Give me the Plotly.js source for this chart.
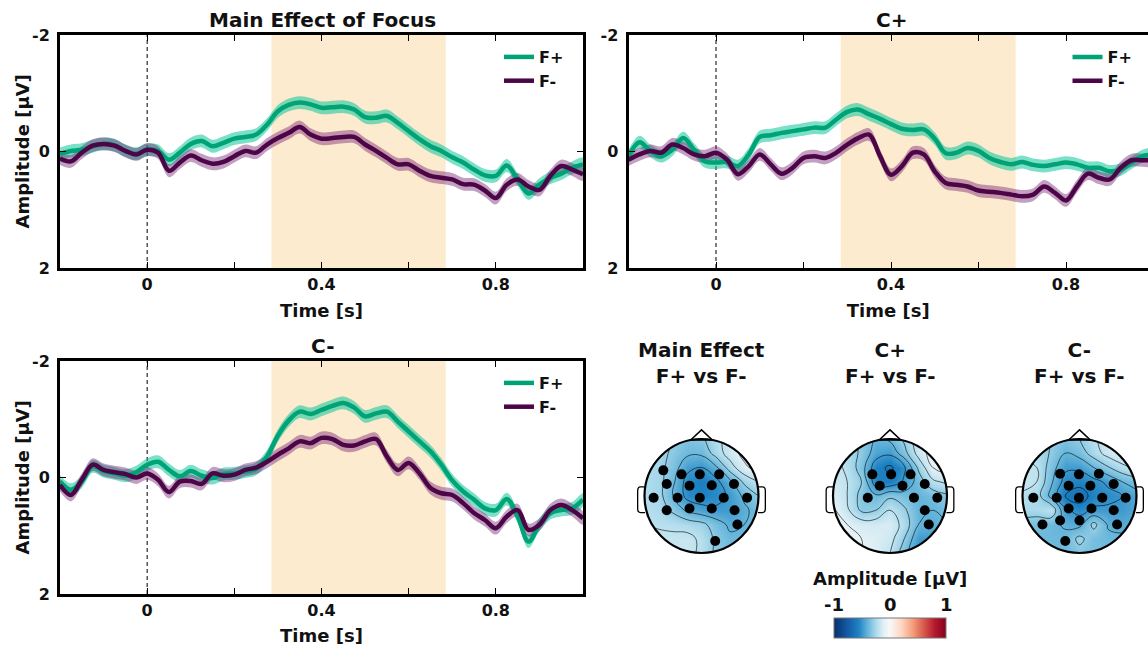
<!DOCTYPE html>
<html><head><meta charset="utf-8">
<script src="https://cdn.plot.ly/plotly-3.0.1.min.js"></script>
<style>html,body{margin:0;padding:0;background:#fff;}#chart{width:1148px;height:646px;}</style>
</head><body><div id="chart"></div>
<script>
// ---------- DATA ----------
const time = [-0.2,-0.175,-0.15,-0.125,-0.1,-0.075,-0.05,-0.025,0,0.025,0.05,0.075,0.1,0.125,0.15,0.175,0.2,0.225,0.25,0.275,0.3,0.325,0.35,0.375,0.4,0.425,0.45,0.475,0.5,0.525,0.55,0.575,0.6,0.625,0.65,0.675,0.7,0.725,0.75,0.775,0.8,0.825,0.85,0.875,0.9,0.925,0.95,0.975,1.0];

const main_Fplus  = [0.04,-0.01,-0.03,-0.09,-0.13,-0.11,-0.01,0.04,-0.03,-0.01,0.14,0.02,-0.13,-0.18,-0.09,-0.15,-0.22,-0.25,-0.29,-0.46,-0.69,-0.80,-0.84,-0.81,-0.75,-0.76,-0.77,-0.72,-0.59,-0.58,-0.61,-0.49,-0.35,-0.21,-0.09,-0.01,0.10,0.19,0.31,0.41,0.42,0.24,0.48,0.72,0.57,0.45,0.38,0.28,0.22];
const main_Fminus = [0.12,0.17,0.02,-0.10,-0.13,-0.10,-0.01,0.05,-0.03,0.02,0.33,0.19,0.07,0.15,0.21,0.18,0.08,-0.01,0.02,-0.12,-0.23,-0.32,-0.42,-0.29,-0.22,-0.23,-0.25,-0.25,-0.12,-0.01,0.11,0.22,0.22,0.33,0.42,0.45,0.48,0.56,0.57,0.67,0.80,0.57,0.48,0.60,0.66,0.42,0.25,0.31,0.39];

const cp_Fplus  = [0.08,-0.16,-0.01,0.08,-0.03,-0.23,-0.03,0.17,0.19,0.18,0.25,0.05,-0.25,-0.28,-0.32,-0.35,-0.38,-0.41,-0.41,-0.55,-0.68,-0.72,-0.64,-0.56,-0.47,-0.39,-0.37,-0.38,-0.22,0.03,0.02,-0.06,-0.01,0.11,0.18,0.22,0.18,0.23,0.25,0.22,0.19,0.22,0.28,0.28,0.34,0.31,0.19,0.08,0.05];
const cp_Fminus = [0.14,0.05,-0.01,0.02,-0.12,-0.06,0.05,0.08,0.02,0.14,0.39,0.25,0.05,0.22,0.38,0.28,0.11,0.08,0.11,0.02,-0.12,-0.23,-0.29,0.08,0.40,0.25,0.02,0.05,0.34,0.54,0.57,0.60,0.67,0.69,0.71,0.74,0.77,0.74,0.60,0.71,0.84,0.60,0.38,0.45,0.48,0.28,0.15,0.15,0.15];

const cm_Fplus  = [0.07,0.21,0.07,-0.19,-0.11,-0.07,-0.03,-0.09,-0.22,-0.27,-0.13,-0.02,-0.11,-0.03,0.01,-0.06,-0.07,-0.10,-0.15,-0.36,-0.72,-0.98,-1.13,-1.09,-1.16,-1.23,-1.28,-1.20,-1.05,-1.10,-1.13,-0.96,-0.79,-0.62,-0.45,-0.22,0.05,0.24,0.38,0.53,0.56,0.37,0.67,1.10,0.81,0.61,0.56,0.53,0.38];
const cm_Fminus = [0.13,0.30,0.04,-0.22,-0.13,-0.09,-0.06,0.00,-0.07,0.04,0.25,0.07,0.06,0.11,-0.07,-0.03,-0.05,-0.13,-0.17,-0.27,-0.39,-0.50,-0.62,-0.59,-0.68,-0.66,-0.56,-0.55,-0.62,-0.66,-0.36,-0.13,-0.25,-0.07,0.18,0.27,0.30,0.44,0.61,0.73,0.87,0.67,0.56,0.90,0.81,0.56,0.47,0.56,0.70];

const semHalf = 0.11;          // half width of the shaded error band (µV)
const windowStart = 0.285;     // highlighted analysis window (s)
const windowEnd = 0.685;

const xTickVals = [0,0.2,0.4,0.6,0.8,1.0];
const xTickText = ['0','','0.4','','0.8',''];
const yTickVals = [-2,0,2];
const yTickText = ['-2','0','2'];

// Topography grids (rows from front y=1 to back y=-1, columns left x=-1 to right x=1)
const gridPos = [-1,-0.75,-0.5,-0.25,0,0.25,0.5,0.75,1];
const gridPosY = [1,0.75,0.5,0.25,0,-0.25,-0.5,-0.75,-1];
const topoMain = [
 [-0.24,-0.26,-0.30,-0.34,-0.32,-0.24,-0.15,-0.07,-0.02],
 [-0.24,-0.26,-0.32,-0.38,-0.38,-0.26,-0.15,-0.07,-0.02],
 [-0.24,-0.26,-0.35,-0.47,-0.50,-0.42,-0.25,-0.12,-0.06],
 [-0.24,-0.26,-0.38,-0.54,-0.58,-0.53,-0.42,-0.28,-0.20],
 [-0.23,-0.26,-0.40,-0.53,-0.56,-0.54,-0.48,-0.38,-0.30],
 [-0.22,-0.24,-0.32,-0.42,-0.46,-0.48,-0.48,-0.42,-0.36],
 [-0.20,-0.21,-0.22,-0.24,-0.27,-0.35,-0.42,-0.40,-0.36],
 [-0.18,-0.18,-0.18,-0.17,-0.22,-0.32,-0.38,-0.38,-0.36],
 [-0.18,-0.18,-0.18,-0.17,-0.22,-0.32,-0.38,-0.38,-0.36]];
const topoCplus = [
 [-0.18,-0.24,-0.32,-0.40,-0.38,-0.28,-0.14,-0.05,0.00],
 [-0.18,-0.24,-0.32,-0.45,-0.48,-0.34,-0.16,-0.05,0.00],
 [-0.16,-0.22,-0.35,-0.56,-0.62,-0.52,-0.28,-0.10,-0.04],
 [-0.14,-0.20,-0.30,-0.56,-0.58,-0.48,-0.36,-0.22,-0.18],
 [-0.12,-0.20,-0.34,-0.38,-0.32,-0.36,-0.40,-0.36,-0.32],
 [-0.08,-0.18,-0.32,-0.30,-0.20,-0.28,-0.40,-0.40,-0.36],
 [-0.06,-0.10,-0.14,-0.14,-0.13,-0.24,-0.40,-0.42,-0.40],
 [-0.05,-0.08,-0.10,-0.12,-0.16,-0.30,-0.48,-0.48,-0.44],
 [-0.05,-0.08,-0.10,-0.12,-0.20,-0.36,-0.52,-0.52,-0.48]];
const topoCminus = [
 [-0.26,-0.26,-0.30,-0.34,-0.30,-0.22,-0.14,-0.09,-0.05],
 [-0.22,-0.24,-0.31,-0.40,-0.36,-0.25,-0.16,-0.11,-0.07],
 [-0.18,-0.20,-0.35,-0.48,-0.48,-0.40,-0.31,-0.23,-0.18],
 [-0.16,-0.20,-0.38,-0.54,-0.56,-0.53,-0.48,-0.40,-0.35],
 [-0.22,-0.25,-0.43,-0.60,-0.66,-0.56,-0.53,-0.50,-0.44],
 [-0.25,-0.25,-0.21,-0.48,-0.54,-0.48,-0.48,-0.48,-0.44],
 [-0.34,-0.36,-0.38,-0.41,-0.43,-0.27,-0.41,-0.43,-0.41],
 [-0.38,-0.38,-0.38,-0.38,-0.27,-0.36,-0.38,-0.38,-0.38],
 [-0.38,-0.38,-0.38,-0.38,-0.34,-0.36,-0.38,-0.38,-0.38]];

// Significant electrodes (head-radius units)
const elecMainX = [-0.67,-0.35,-0.03,0.31,-0.61,-0.21,0.18,0.57,-0.84,-0.42,-0.03,0.39,0.80,-0.61,-0.21,0.18,0.58,0.63,0.24];
const elecMainY = [0.45,0.38,0.38,0.38,0.21,0.18,0.19,0.21,-0.03,-0.03,-0.03,-0.03,-0.03,-0.25,-0.22,-0.22,-0.25,-0.50,-0.79];
const elecCplusX = [-0.31,0.02,0.36,-0.18,0.22,0.61,-0.39,0.42,0.83,0.61,0.68];
const elecCplusY = [0.38,0.38,0.38,0.18,0.18,0.21,-0.03,-0.03,-0.03,-0.25,-0.50];
const elecCminusX = [-0.34,-0.01,0.34,-0.19,0.19,0.60,-0.81,-0.40,-0.01,0.40,0.81,-0.19,0.21,0.60,-0.65,-0.34,0.00,0.66,-0.25];
const elecCminusY = [0.39,0.38,0.39,0.18,0.18,0.21,-0.03,-0.03,-0.03,-0.03,-0.03,-0.22,-0.22,-0.25,-0.50,-0.43,-0.43,-0.50,-0.79];

const panelTitles = ['Main Effect of Focus','C+','C-'];
const topoTitles = ['Main Effect<br>F+ vs F-','C+<br>F+ vs F-','C-<br>F+ vs F-'];
const seriesNames = ['F+','F-'];
const xTitle = 'Time [s]';
const yTitle = 'Amplitude [μV]';
const cbarTitle = 'Amplitude [μV]';
const cbarTickLabels = ['-1','0','1'];
const cbarTickVals = [-1,0,1];

// ---------- STYLE / LAYOUT ----------
const W = 1148, H = 646;
const px = v => v / W;
const py = v => 1 - v / H;
const FONT = 'DejaVu Sans, Liberation Sans, Arial, sans-serif';
const colPlus = 'rgb(0,163,118)', colMinus = 'rgb(76,6,72)';
const bandPlus = 'rgba(0,196,152,0.52)', bandMinus = 'rgba(112,26,110,0.42)';

const panels = [
  {xa:'x',  ya:'y',  fp:main_Fplus, fm:main_Fminus, lg:'legend',  xd:[60,583],    yd:[35,268],  xr:[-0.2,1.0], mirrorY:'ticks', yTitle:true},
  {xa:'x2', ya:'y2', fp:cp_Fplus,   fm:cp_Fminus,   lg:'legend2', xd:[628.5,1148], yd:[35,268],  xr:[-0.2,-0.2+(1148-628.5)/437.5], mirrorY:false, yTitle:false},
  {xa:'x3', ya:'y3', fp:cm_Fplus,   fm:cm_Fminus,   lg:'legend3', xd:[60,583],    yd:[361,594], xr:[-0.2,1.0], mirrorY:'ticks', yTitle:true}
];

const traces = [];
const shapes = [];
const annotations = [];
const layout = {
  width: W, height: H, margin:{l:0,r:0,t:0,b:0},
  paper_bgcolor:'#fff', plot_bgcolor:'#fff',
  font:{family:FONT, color:'#000'},
  showlegend:true, hovermode:false
};

function band(series) {
  const up = series.map(v => v - semHalf);
  const lo = series.map(v => v + semHalf).reverse();
  return {x: time.concat(time.slice().reverse()), y: up.concat(lo)};
}

panels.forEach((p, i) => {
  const bp = band(p.fp), bm = band(p.fm);
  traces.push({type:'scatter', mode:'lines', x:bp.x, y:bp.y, xaxis:p.xa, yaxis:p.ya, fill:'toself', fillcolor:bandPlus, line:{width:0, shape:'spline'}, showlegend:false, hoverinfo:'skip'});
  traces.push({type:'scatter', mode:'lines', x:bm.x, y:bm.y, xaxis:p.xa, yaxis:p.ya, fill:'toself', fillcolor:bandMinus, line:{width:0, shape:'spline'}, showlegend:false, hoverinfo:'skip'});
  traces.push({type:'scatter', mode:'lines', name:seriesNames[0], x:time, y:p.fp, xaxis:p.xa, yaxis:p.ya, line:{color:colPlus, width:4.5, shape:'spline'}, legend:p.lg, legendgroup:'a'+i});
  traces.push({type:'scatter', mode:'lines', name:seriesNames[1], x:time, y:p.fm, xaxis:p.xa, yaxis:p.ya, line:{color:colMinus, width:4.5, shape:'spline'}, legend:p.lg, legendgroup:'b'+i});

  const xn = p.xa === 'x' ? 'xaxis' : 'xaxis' + p.xa.slice(1);
  const yn = p.ya === 'y' ? 'yaxis' : 'yaxis' + p.ya.slice(1);
  layout[xn] = {
    domain:[px(p.xd[0]), px(p.xd[1])], range:p.xr, anchor:p.ya,
    tickmode:'array', tickvals:xTickVals, ticktext:xTickText,
    ticks:'inside', ticklen:6, tickwidth:1, tickcolor:'#000',
    showline:true, linewidth:3, linecolor:'#000', mirror:'ticks',
    showgrid:false, zeroline:false, automargin:false, fixedrange:true,
    tickfont:{family:FONT, size:16, weight:700, color:'#111'},
    title:{text:xTitle, font:{family:FONT, size:18, weight:700, color:'#111'}, standoff:12}
  };
  layout[yn] = {
    domain:[py(p.yd[1]), py(p.yd[0])], range:[2,-2], anchor:p.xa,
    tickmode:'array', tickvals:yTickVals, ticktext:yTickText,
    ticks:'inside', ticklen:6, tickwidth:1, tickcolor:'#000',
    showline:true, linewidth:3, linecolor:'#000', mirror:p.mirrorY,
    showgrid:false, zeroline:false, automargin:false, fixedrange:true,
    ticklabelstandoff:4,
    tickfont:{family:FONT, size:16, weight:700, color:'#111'}
  };
  if (p.yTitle) {
    annotations.push({text:yTitle, textangle:-90, xref:'paper', yref:'paper', x:px(22), y:py((p.yd[0]+p.yd[1])/2),
      xanchor:'center', yanchor:'middle', showarrow:false, font:{family:FONT, size:18, weight:700, color:'#111'}});
  }
  shapes.push({type:'rect', layer:'below', xref:p.xa, yref:p.ya+' domain', x0:windowStart, x1:windowEnd, y0:0, y1:1, fillcolor:'#fdebd0', line:{width:0}});
  shapes.push({type:'line', layer:'below', xref:p.xa, yref:p.ya+' domain', x0:0, x1:0, y0:0, y1:1, line:{color:'#000', width:1, dash:'4px,3px'}});

  layout[p.lg] = {
    x: px(p.xd[0] + 437.5*1.2 - 86), y: py(p.yd[0] + 5), xanchor:'left', yanchor:'top',
    bgcolor:'rgba(0,0,0,0)', borderwidth:0,
    font:{family:FONT, size:16, weight:700, color:'#111'},
    traceorder:'grouped', tracegroupgap:0
  };
  annotations.push({text:panelTitles[i], xref:'paper', yref:'paper',
    x: px((p.xd[0] + p.xd[0] + 437.5*1.2)/2), y: py(p.yd[0] - 15), xanchor:'center', yanchor:'middle', showarrow:false,
    font:{family:FONT, size:20, weight:700, color:'#111'}});
});

// ---------- TOPOGRAPHIES ----------
const topoCenters = [701.5, 890, 1079.5];
const topoCy = 496, unitPx = 57, half = 1.2;
const topoData = [topoMain, topoCplus, topoCminus];
const elecX = [elecMainX, elecCplusX, elecCminusX];
const elecY = [elecMainY, elecCplusY, elecCminusY];
const k = 0.5523;
const circ = `M1,0 C1,${k} ${k},1 0,1 C${-k},1 -1,${k} -1,0 C-1,${-k} ${-k},-1 0,-1 C${k},-1 1,${-k} 1,0 Z`;

topoCenters.forEach((cx, i) => {
  const n = i + 4;
  const xa = 'x' + n, ya = 'y' + n;
  layout['xaxis' + n] = {domain:[px(cx - half*unitPx), px(cx + half*unitPx)], range:[-half, half], visible:false, fixedrange:true, anchor:ya};
  layout['yaxis' + n] = {domain:[py(topoCy + half*unitPx), py(topoCy - half*unitPx)], range:[-half, half], visible:false, fixedrange:true, anchor:xa};
  traces.push({type:'contour', x:gridPos, y:gridPosY, z:topoData[i], xaxis:xa, yaxis:ya,
    coloraxis:'coloraxis', hoverinfo:'skip',
    contours:{coloring:'heatmap', showlines:true, start:-1, end:1, size:0.1},
    line:{color:'rgba(0,0,0,0.85)', width:0.7, smoothing:1.2}});
  traces.push({type:'scatter', mode:'markers', x:elecX[i], y:elecY[i], xaxis:xa, yaxis:ya,
    marker:{color:'#000', size:10}, showlegend:false, hoverinfo:'skip'});
  shapes.push({type:'path', xref:xa, yref:ya, path:`M-1.2,-1.2 H1.2 V1.2 H-1.2 Z ` + circ, fillrule:'evenodd', fillcolor:'#fff', line:{width:0}});
  shapes.push({type:'path', xref:xa, yref:ya, path:'M-0.19,0.982 L0,1.16 L0.19,0.982 Z', fillcolor:'#fff', line:{color:'#000', width:1.5}});
  shapes.push({type:'path', xref:xa, yref:ya, path:'M-0.995,0.16 L-1.07,0.16 Q-1.12,0.16 -1.12,0.09 L-1.12,-0.22 Q-1.12,-0.29 -1.07,-0.29 L-0.99,-0.29', line:{color:'#000', width:1.3}});
  shapes.push({type:'path', xref:xa, yref:ya, path:'M0.995,0.16 L1.07,0.16 Q1.12,0.16 1.12,0.09 L1.12,-0.22 Q1.12,-0.29 1.07,-0.29 L0.99,-0.29', line:{color:'#000', width:1.3}});
  shapes.push({type:'path', xref:xa, yref:ya, path:circ, line:{color:'#000', width:2.2}});
  annotations.push({text:topoTitles[i], xref:'paper', yref:'paper', x:px(cx), y:py(363), xanchor:'center', yanchor:'middle', showarrow:false,
    font:{family:FONT, size:20, weight:700, color:'#111'}});
});

layout.coloraxis = {
  cmin:-1, cmax:1,
  colorscale:[[0,'rgb(8,48,107)'],[0.12,'rgb(20,90,165)'],[0.22,'rgb(30,130,195)'],[0.3,'rgb(100,180,218)'],[0.38,'rgb(175,220,236)'],[0.45,'rgb(228,241,246)'],[0.5,'rgb(248,248,248)'],[0.6,'rgb(253,215,195)'],[0.7,'rgb(245,160,125)'],[0.8,'rgb(215,90,75)'],[0.9,'rgb(180,25,45)'],[1,'rgb(135,0,30)']],
  colorbar:{orientation:'h', x:px(890), xanchor:'center', y:py(639), yanchor:'bottom', len:112, lenmode:'pixels', thickness:20, thicknessmode:'pixels',
    outlinewidth:1, outlinecolor:'#777', showticklabels:false, ticks:'', xpad:0, ypad:0}
};
annotations.push({text:cbarTitle, xref:'paper', yref:'paper', x:px(890), y:py(578), xanchor:'center', yanchor:'middle', showarrow:false,
  font:{family:FONT, size:18, weight:700, color:'#111'}});
const cbarPx = v => 834 + (v + 1) / 2 * 112;
cbarTickVals.forEach((v, j) => {
  annotations.push({text:cbarTickLabels[j], xref:'paper', yref:'paper', x:px(cbarPx(v)), y:py(604), xanchor:'center', yanchor:'middle', showarrow:false,
    font:{family:FONT, size:18, weight:700, color:'#111'}});
});

layout.shapes = shapes;
layout.annotations = annotations;
Plotly.newPlot('chart', traces, layout, {staticPlot:true, displayModeBar:false});
</script></body></html>
